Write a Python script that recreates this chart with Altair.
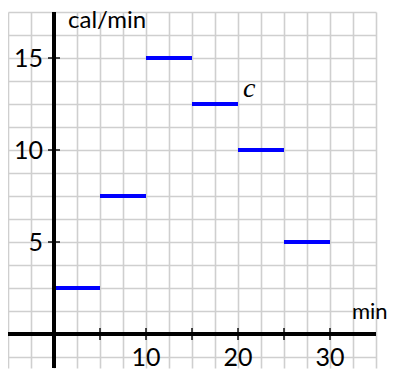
import altair as alt
import pandas as pd

# Step function segments (minutes -> cal/min)
seg_start = [0, 5, 10, 15, 20, 25]
seg_end = [5, 10, 15, 20, 25, 30]
seg_rate = [2.5, 7.5, 15, 12.5, 10, 5]

# Axis ticks and labels
x_ticks = [5, 10, 15, 20, 25, 30]
x_labels = [10, 20, 30]
y_ticks = [5, 10, 15]
y_labels = [5, 10, 15]

# Grid positions
x_grid = [-5, -2.5, 0, 2.5, 5, 7.5, 10, 12.5, 15, 17.5, 20, 22.5, 25, 27.5, 30, 32.5, 35]
y_grid = [-1.25, 0, 1.25, 2.5, 3.75, 5, 6.25, 7.5, 8.75, 10, 11.25, 12.5, 13.75, 15, 16.25, 17.5]

X_DOMAIN = [-5, 35]
Y_DOMAIN = [-1.85, 17.5]

xs = alt.Scale(domain=X_DOMAIN, nice=False, zero=False)
ys = alt.Scale(domain=Y_DOMAIN, nice=False, zero=False)

x_axis = alt.Axis(values=x_grid, grid=True, labels=False, ticks=False, domain=False,
                  title=None, gridColor="#cfcfcf", gridWidth=1.6, gridOpacity=1)
y_axis = alt.Axis(values=y_grid, grid=True, labels=False, ticks=False, domain=False,
                  title=None, gridColor="#cfcfcf", gridWidth=1.6, gridOpacity=1)


def X(field):
    return alt.X(field, scale=xs, axis=x_axis)


def Y(field):
    return alt.Y(field, scale=ys, axis=y_axis)


FONT = "Lato"
FS = 25

seg_df = pd.DataFrame({"start": seg_start, "end": seg_end, "rate": seg_rate})

segments = alt.Chart(seg_df).mark_rule(color="#0000ff", strokeWidth=4).encode(
    x=X("start:Q"), x2="end:Q", y=Y("rate:Q"))

zero_df = pd.DataFrame({"v": [0]})
x_axis_line = alt.Chart(zero_df).mark_rule(color="black", strokeWidth=4).encode(y=Y("v:Q"))
y_axis_line = alt.Chart(zero_df).mark_rule(color="black", strokeWidth=4).encode(x=X("v:Q"))

xt_df = pd.DataFrame({"x": x_ticks, "y": [0] * len(x_ticks)})
x_tick_marks = alt.Chart(xt_df).mark_tick(orient="vertical", size=12, thickness=2, color="black").encode(
    x=X("x:Q"), y=Y("y:Q"))

yt_df = pd.DataFrame({"y": y_ticks, "x": [0] * len(y_ticks)})
y_tick_marks = alt.Chart(yt_df).mark_tick(orient="horizontal", size=12, thickness=2, color="black").encode(
    x=X("x:Q"), y=Y("y:Q"))

xl_df = pd.DataFrame({"x": x_labels, "y": [0] * len(x_labels), "t": [str(v) for v in x_labels]})
x_label_text = alt.Chart(xl_df).mark_text(font=FONT, fontSize=FS, dy=32, baseline="alphabetic",
                                          align="center", color="black").encode(
    x=X("x:Q"), y=Y("y:Q"), text="t:N")

yl_df = pd.DataFrame({"y": y_labels, "x": [0] * len(y_labels), "t": [str(v) for v in y_labels]})
y_label_text = alt.Chart(yl_df).mark_text(font=FONT, fontSize=FS, dx=-11, dy=9, baseline="alphabetic",
                                          align="right", color="black").encode(
    x=X("x:Q"), y=Y("y:Q"), text="t:N")

ytitle_df = pd.DataFrame({"x": [0], "y": [17.5], "t": ["cal/min"]})
y_title = alt.Chart(ytitle_df).mark_text(font=FONT, fontSize=24, dx=14, dy=16, baseline="alphabetic",
                                         align="left", color="black").encode(
    x=X("x:Q"), y=Y("y:Q"), text="t:N")

xtitle_df = pd.DataFrame({"x": [30], "y": [0], "t": ["min"]})
x_title = alt.Chart(xtitle_df).mark_text(font=FONT, fontSize=22, dx=22, dy=-15, baseline="alphabetic",
                                         align="left", color="black").encode(
    x=X("x:Q"), y=Y("y:Q"), text="t:N")

c_df = pd.DataFrame({"x": [20], "y": [12.5], "t": ["c"]})
c_label = alt.Chart(c_df).mark_text(font="Liberation Serif", fontStyle="italic", fontSize=28,
                                    dx=5, dy=-7, baseline="alphabetic", align="left", color="black").encode(
    x=X("x:Q"), y=Y("y:Q"), text="t:N")

chart = alt.layer(
    segments, x_axis_line, y_axis_line, x_tick_marks, y_tick_marks,
    x_label_text, y_label_text, y_title, x_title, c_label
).properties(
    width=368, height=356,
    autosize=alt.AutoSizeParams(type="none"),
    padding={"left": 0, "top": 4, "right": 12, "bottom": 2},
).configure_view(stroke=None)

chart.save("out.html", embed_options={"renderer": "svg", "actions": False})
